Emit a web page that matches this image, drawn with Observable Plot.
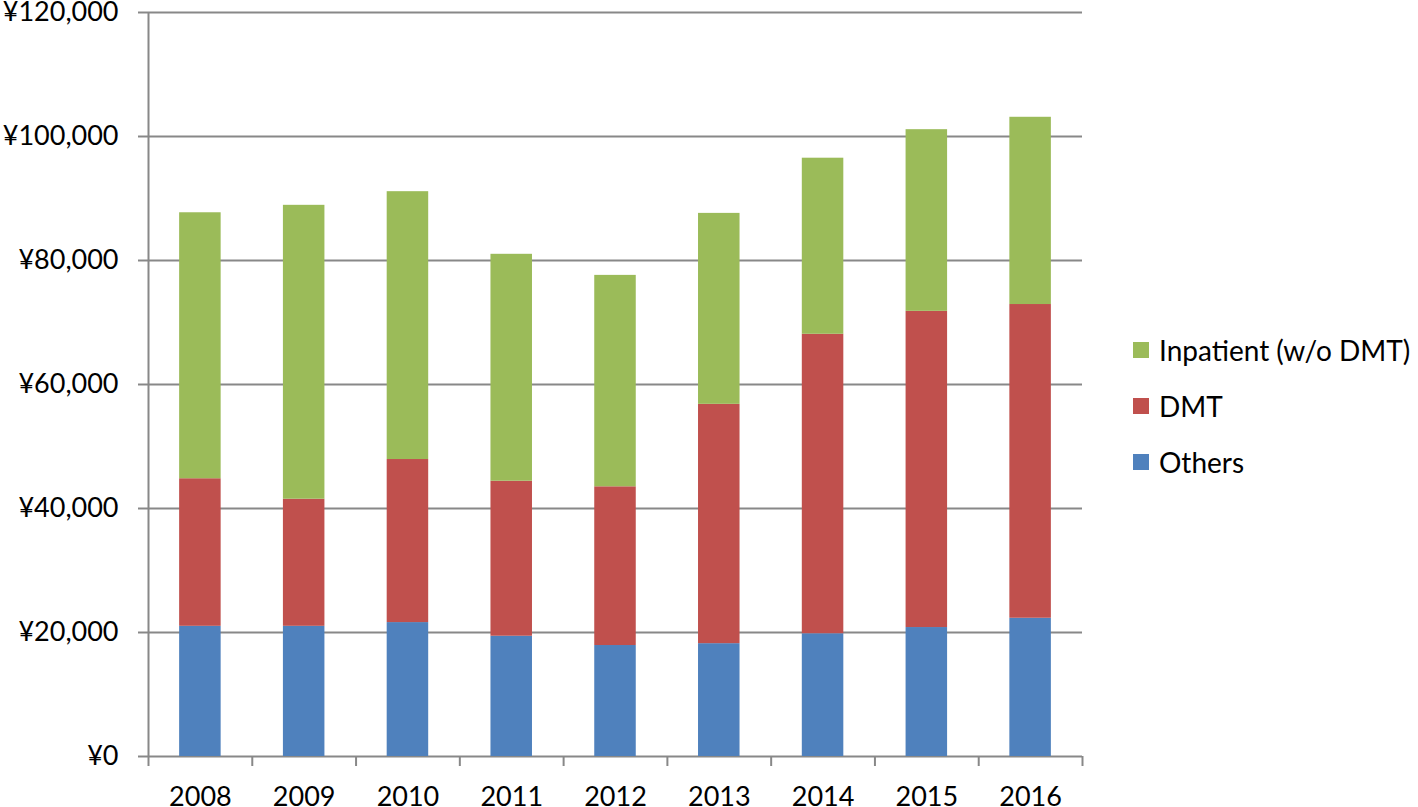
<!DOCTYPE html>
<html>
<head>
<meta charset="utf-8">
<script src="https://cdn.jsdelivr.net/npm/d3@7"></script>
<script src="https://cdn.jsdelivr.net/npm/@observablehq/plot@0.6"></script>
<style>
  html, body { margin: 0; padding: 0; background: #fff; }
  #wrap { position: relative; width: 1418px; height: 807px; overflow: hidden; font-family: Lato, "Open Sans", sans-serif; }
  #legend { position: absolute; left: 1133px; top: 322px; font-size: 28px; color: #000; }
  #legend .row { display: flex; align-items: center; height: 56px; white-space: nowrap; }
  #legend .sw { width: 16px; height: 16px; margin-right: 10px; }
</style>
</head>
<body>
<div id="wrap"><div id="chart"></div><div id="legend"></div></div>
<script>
const years = ["2008","2009","2010","2011","2012","2013","2014","2015","2016"];
const others = [21000, 21000, 21600, 19400, 17900, 18200, 19800, 20800, 22300];
const dmt = [23800, 20500, 26300, 25000, 25600, 38600, 48300, 51000, 50600];
const inpatient = [42900, 47400, 43200, 36600, 34100, 30800, 28400, 29300, 30200];
const seriesNames = ["Others", "DMT", "Inpatient (w/o DMT)"];
const seriesColors = ["#4F81BD", "#C0504D", "#9BBB59"];
const yTicks = [0, 20000, 40000, 60000, 80000, 100000, 120000];

const seriesValues = [others, dmt, inpatient];
const rows = [];
years.forEach((yr, i) => {
  let base = 0;
  seriesValues.forEach((vals, s) => {
    rows.push({i, year: yr, series: seriesNames[s], y1: base, y2: base + vals[i]});
    base += vals[i];
  });
});
const centers = years.map((_, i) => i);
const bounds = d3.range(years.length + 1).map(i => i - 0.5);
const halfBar = 0.2;

const chart = Plot.plot({
  width: 1418,
  height: 807,
  marginLeft: 148,
  marginRight: 336,
  marginTop: 12,
  marginBottom: 51,
  style: {fontFamily: "Lato, 'Open Sans', sans-serif", fontSize: "27px", color: "#000", background: "#fff"},
  x: {type: "linear", domain: [-0.5, years.length - 0.5], axis: null},
  y: {domain: [0, 120000], axis: null},
  color: {domain: seriesNames, range: seriesColors},
  marks: [
    Plot.gridY(yTicks, {stroke: "#888", strokeOpacity: 1, strokeWidth: 2}),
    Plot.axisY({ticks: yTicks, tickSize: 10, tickPadding: 20, stroke: "#888", strokeWidth: 2,
      tickFormat: d => "¥" + d3.format(",")(d), fontSize: 27, fill: "#000", label: null}),
    Plot.axisX({ticks: bounds, tickSize: 10, tickFormat: () => "", stroke: "#888", strokeWidth: 2, label: null}),
    Plot.axisX({ticks: centers, tickSize: 0, tickPadding: 30, tickFormat: i => years[i], fontSize: 27, fill: "#000", label: null}),
    Plot.ruleX([-0.5], {y1: 0, y2: 120000, stroke: "#888", strokeWidth: 2}),
    Plot.rect(rows, {x1: d => d.i - halfBar, x2: d => d.i + halfBar, y1: "y1", y2: "y2", fill: "series"})
  ]
});
document.getElementById("chart").appendChild(chart);

const legend = document.getElementById("legend");
[2, 1, 0].forEach(s => {
  const row = document.createElement("div");
  row.className = "row";
  const sw = document.createElement("div");
  sw.className = "sw";
  sw.style.background = seriesColors[s];
  const t = document.createElement("span");
  t.textContent = seriesNames[s];
  row.appendChild(sw); row.appendChild(t);
  legend.appendChild(row);
});
</script>
</body>
</html>
